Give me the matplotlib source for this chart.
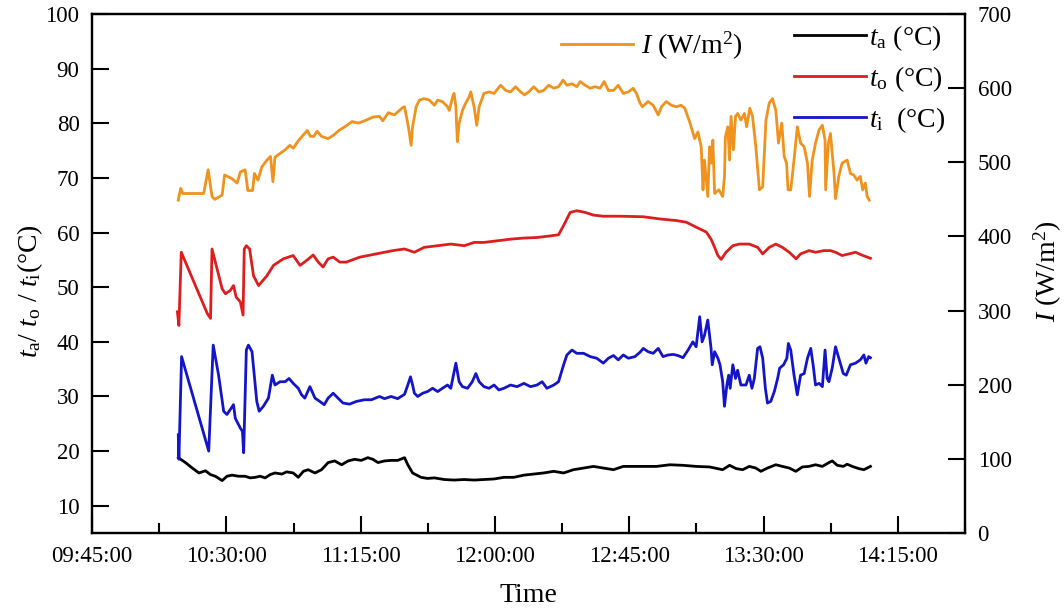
import numpy as np
import pandas as pd
import matplotlib
matplotlib.use("Agg")
import matplotlib.pyplot as plt
import matplotlib.dates as mdates
from matplotlib.lines import Line2D

plt.rcParams['font.family'] = ['Liberation Serif', 'DejaVu Serif']
plt.rcParams['mathtext.fontset'] = 'custom'
plt.rcParams['mathtext.rm'] = 'Liberation Serif'
plt.rcParams['mathtext.it'] = 'Liberation Serif:italic'
plt.rcParams['mathtext.bf'] = 'Liberation Serif:bold'

# ---------------- data (time in minutes after 09:45:00) ----------------
I_time = [28.9, 29.7, 30.4, 37.4, 38.9, 40.2, 41.1, 43.6, 44.4, 46.9, 48.6, 49.7, 51.3, 52.2, 53.8,
          54.4, 55.6, 56.9, 58.6, 59.8, 60.6, 61.3, 63.0, 64.7, 66.3, 67.4, 69.1, 70.4, 72.1, 73.2,
          74.3, 75.4, 76.9, 79.1, 81.0, 82.7, 84.7, 87.1, 89.3, 91.9, 94.1, 96.3, 97.4, 99.3, 101.3,
          103.0, 104.1, 104.7, 106.0, 106.9, 107.4, 108.6, 109.7, 111.3, 113.0, 114.7, 115.8, 117.4,
          119.1, 119.7, 120.8, 121.3, 121.9, 122.4, 123.0, 124.1, 125.2, 126.3, 126.9, 128.0, 128.9,
          129.7, 131.3, 133.0, 134.7, 136.9, 138.6, 140.2, 141.9, 143.6, 144.9, 146.3, 148.0, 149.7,
          151.3, 153.0, 154.7, 156.3, 157.8, 159.1, 160.8, 162.4, 163.6, 165.2, 166.9, 168.6, 170.2,
          171.6, 173.0, 174.7, 176.3, 178.0, 179.7, 181.3, 182.4, 183.6, 184.4, 186.3, 188.0, 189.7,
          190.8, 192.4, 194.1, 195.8, 197.4, 198.6, 200.2, 201.9, 203.0, 204.1, 204.7, 205.2, 206.3,
          206.9, 207.4, 208.0, 208.6, 210.0, 211.3, 211.9, 212.2, 213.0, 213.6, 214.1, 214.9, 215.6,
          216.3, 217.4, 218.6, 219.3, 220.4, 221.3, 222.4, 223.6, 224.7, 225.8, 226.9, 228.0, 229.1,
          230.0, 231.1, 231.9, 232.7, 233.2, 234.1, 235.2, 236.3, 237.4, 238.6, 239.7, 240.4, 241.3,
          242.4, 243.6, 244.7, 245.6, 245.8, 246.7, 247.4, 248.6, 249.1, 250.2, 251.3, 253.0, 254.1,
          255.2, 256.3, 257.4, 258.2, 259.1, 259.7, 260.4]
I_vals = [449, 465, 458, 458, 490, 454, 450, 456, 483, 478, 472, 487, 490, 462, 462,
          485, 476, 494, 503, 508, 474, 507, 512, 517, 523, 519, 529, 535, 543, 535,
          535, 542, 535, 532, 537, 543, 548, 555, 553, 557, 561, 562, 556, 567, 564,
          570, 574, 575, 548, 523, 548, 575, 584, 586, 584, 577, 584, 582,
          575, 570, 588, 593, 575, 528, 553, 570, 580, 588, 595, 575, 550,
          575, 593, 595, 593, 604, 597, 595, 602, 595, 591, 595, 602, 595,
          597, 604, 600, 602, 611, 604, 606, 602, 609, 604, 600, 602, 600,
          609, 597, 597, 604, 593, 595, 600, 593, 580, 575, 582, 577, 564,
          575, 582, 577, 575, 577, 573, 555, 532, 541, 521, 463, 503, 454,
          521, 499, 530, 458, 463, 454, 481, 534, 548, 503, 562, 517, 562,
          566, 557, 566, 548, 573, 562, 521, 463, 467, 557, 580, 586, 570,
          526, 553, 508, 499, 463, 463, 503, 548, 526, 521, 499, 454, 503,
          526, 544, 550, 530, 463, 526, 539, 485, 451, 481, 499, 503, 485,
          483, 476, 481, 463, 472, 454, 449]

to_time = [28.6, 29.1, 29.9, 38.6, 39.7, 40.2, 43.6, 44.7, 46.3, 47.4, 48.3, 49.7, 50.6, 51.0,
           51.7, 52.8, 54.1, 55.8, 58.6, 60.8, 64.1, 67.4, 69.7, 71.9, 74.1, 75.8, 77.4, 79.1,
           80.8, 83.0, 85.2, 89.7, 95.2, 100.8, 104.7, 108.0, 111.3, 115.8, 120.2, 124.7, 128.0,
           131.3, 135.8, 140.2, 144.7, 149.1, 153.6, 156.3, 158.0, 160.2, 162.4, 165.2, 168.0,
           171.3, 176.9, 184.7, 190.2, 195.8, 199.1, 202.4, 205.8, 207.4, 208.6, 209.7, 210.8,
           212.4, 214.7, 216.9, 220.2, 223.0, 224.7, 226.9, 229.1, 231.3, 233.6, 235.9, 237.4,
           240.2, 242.4, 245.2, 247.4, 249.1, 251.3, 253.6, 255.8, 258.3, 260.8]
to_vals = [45.5, 43.0, 56.4, 45.2, 44.3, 57.0, 49.7, 48.8, 49.4, 50.3, 48.2, 47.3, 44.9, 57.0,
           57.6, 57.0, 52.1, 50.3, 52.1, 54.0, 55.2, 55.8, 54.0, 54.9, 55.9, 54.6, 53.7, 55.2,
           55.5, 54.6, 54.6, 55.5, 56.1, 56.7, 57.0, 56.4, 57.3, 57.6, 57.9, 57.6, 58.2,
           58.2, 58.5, 58.8, 59.0, 59.1, 59.4, 59.6, 61.3, 63.7, 64.0, 63.7, 63.2,
           63.0, 63.0, 62.9, 62.5, 62.2, 61.9, 61.0, 60.1, 58.8, 57.3, 55.8, 55.1,
           56.4, 57.6, 57.9, 57.9, 57.3, 56.1, 57.3, 57.9, 57.3, 56.4, 55.2, 56.1,
           56.7, 56.4, 56.7, 56.7, 56.4, 55.8, 56.1, 56.4, 55.8, 55.3]

ti_time = [28.9, 29.1, 30.0, 39.1, 40.6, 42.4, 44.1, 45.2, 46.3, 47.4, 48.0, 49.7, 50.4, 50.8,
           51.7, 52.4, 53.6, 55.2, 56.0, 57.4, 59.1, 60.4, 61.3, 63.0, 64.7, 66.0, 67.4, 69.1,
           70.2, 71.3, 73.0, 74.7, 76.3, 77.8, 79.1, 80.8, 82.4, 84.1, 86.3, 88.6, 91.3, 93.6,
           96.3, 98.0, 100.2, 102.4, 104.7, 105.8, 106.7, 107.4, 108.0, 109.1, 110.8, 112.4,
           114.1, 115.8, 117.4, 119.1, 120.2, 121.9, 123.0, 124.1, 125.8, 127.4, 128.6, 129.7,
           131.3, 133.0, 134.7, 136.3, 138.0, 140.2, 142.4, 144.7, 146.9, 149.1, 150.8, 152.4,
           154.7, 156.3, 158.0, 159.1, 160.8, 162.4, 164.7, 166.9, 169.1, 171.3, 173.0, 174.7,
           176.3, 178.0, 179.7, 181.9, 183.6, 184.7, 186.3, 188.0, 189.7, 191.3, 193.0, 194.7,
           196.3, 198.0, 199.7, 201.3, 202.4, 203.6, 204.4, 205.2, 206.3, 206.9, 207.4, 207.8,
           208.6, 209.7, 210.4, 211.3, 211.9, 212.7, 213.3, 213.8, 214.7, 215.6, 216.3, 217.4,
           219.1, 220.2, 221.1, 221.9, 223.0, 223.8, 224.7, 225.6, 226.3, 227.4, 228.6, 229.7,
           230.4, 231.7, 232.8, 233.3, 234.1, 235.2, 236.3, 237.4, 238.6, 239.7, 240.8, 241.6,
           242.4, 243.6, 244.7, 245.6, 246.3, 246.9, 248.0, 249.1, 250.2, 251.7, 252.7, 254.1,
           255.8, 257.4, 258.6, 259.3, 260.2, 260.8]
ti_vals = [23.0, 18.5, 37.3, 20.0, 39.4, 33.9, 27.3, 26.7, 27.6, 28.5, 26.0, 24.2, 23.6, 19.7,
           38.5, 39.4, 38.2, 29.1, 27.3, 28.2, 29.7, 33.9, 32.1, 32.7, 32.7, 33.3, 32.4, 31.5,
           30.3, 29.7, 31.8, 29.7, 29.1, 28.5, 29.7, 30.6, 29.7, 28.8, 28.6, 29.1, 29.4, 29.4,
           30.0, 29.6, 30.0, 29.6, 30.4, 32.1, 33.6, 32.1, 30.6, 30.0, 30.6, 30.9,
           31.5, 30.9, 31.5, 32.1, 31.5, 36.1, 32.7, 31.8, 31.5, 32.7, 34.2, 32.7,
           31.8, 31.5, 32.1, 31.2, 31.5, 32.1, 31.8, 32.4, 31.8, 32.1, 32.7, 31.5,
           32.1, 32.7, 35.8, 37.6, 38.5, 37.9, 37.9, 37.3, 37.0, 36.1, 37.0, 37.5,
           36.7, 37.6, 37.0, 37.3, 38.1, 38.8, 38.2, 37.9, 38.8, 37.3, 37.6, 37.7,
           37.5, 37.1, 38.5, 40.0, 39.1, 44.6, 40.0, 41.2, 44.0, 41.2, 38.8, 35.8,
           38.2, 37.0, 35.8, 32.7, 28.2, 32.1, 33.9, 31.5, 35.8, 33.3, 34.8, 32.1,
           32.1, 33.9, 31.5, 33.3, 38.8, 39.1, 37.0, 31.5, 28.8, 29.1, 30.9, 33.3,
           35.2, 35.8, 37.0, 39.7, 38.5, 33.9, 30.3, 33.9, 34.2, 37.0, 38.8, 35.8,
           32.1, 32.4, 31.8, 38.5, 33.3, 32.7, 35.2, 39.1, 37.0, 34.2, 33.9, 35.8,
           36.1, 36.7, 37.6, 36.1, 37.3, 37.1]

ta_time = [28.9, 31.3, 33.6, 35.8, 38.0, 39.7, 41.3, 43.6, 45.2, 46.9, 49.1, 51.3, 53.0, 54.7,
           56.3, 58.0, 59.7, 61.3, 63.6, 65.2, 67.4, 69.1, 70.8, 72.4, 74.7, 76.9, 79.1, 81.3,
           83.6, 85.8, 88.0, 90.2, 92.4, 94.1, 95.8, 98.0, 100.2, 102.4, 104.7, 105.8, 107.4,
           110.2, 112.4, 114.7, 118.0, 121.3, 124.7, 128.0, 131.3, 134.7, 138.0, 141.3, 144.7,
           148.0, 151.3, 154.7, 158.0, 161.3, 164.7, 168.0, 171.3, 174.7, 178.0, 181.3, 184.7,
           189.1, 193.6, 198.0, 202.4, 206.9, 211.3, 213.6, 215.8, 218.0, 220.2, 222.4, 224.1,
           226.3, 229.1, 231.3, 233.6, 235.8, 238.0, 240.2, 242.4, 244.7, 246.9, 248.0, 249.7,
           251.7, 253.0, 254.7, 256.9, 258.6, 260.8]
ta_vals = [18.8, 17.9, 16.9, 16.0, 16.4, 15.7, 15.4, 14.6, 15.4, 15.6, 15.4, 15.4, 15.1, 15.2,
           15.4, 15.1, 15.7, 16.0, 15.8, 16.2, 16.0, 15.2, 16.3, 16.6, 16.0, 16.6, 17.9, 18.2,
           17.5, 18.2, 18.5, 18.3, 18.8, 18.5, 17.9, 18.2, 18.3, 18.3, 18.8, 17.5, 16.0,
           15.2, 15.0, 15.1, 14.8, 14.7, 14.8, 14.7, 14.8, 14.9, 15.2, 15.2, 15.6,
           15.8, 16.0, 16.3, 16.0, 16.6, 16.9, 17.2, 16.9, 16.6, 17.2, 17.2, 17.2,
           17.2, 17.5, 17.4, 17.2, 17.1, 16.6, 17.4, 16.8, 16.6, 17.2, 16.9, 16.3,
           16.9, 17.5, 17.2, 16.9, 16.3, 17.1, 17.2, 17.5, 17.2, 17.9, 18.2, 17.4,
           17.2, 17.6, 17.2, 16.8, 16.6, 17.2]

start_clock = "09:45:00"
x_tick_labels = ["09:45:00", "10:30:00", "11:15:00", "12:00:00", "12:45:00", "13:30:00", "14:15:00"]
left_ticks = [10, 20, 30, 40, 50, 60, 70, 80, 90, 100]
right_ticks = [0, 100, 200, 300, 400, 500, 600, 700]

# ---------------- helpers ----------------
base = pd.Timestamp("2020-01-01 " + start_clock)


def to_x(minutes):
    return (base + pd.to_timedelta(np.asarray(minutes, dtype=float), unit="min")).to_numpy()


C_I = '#F0921E'
C_O = '#DC1E1E'
C_IN = '#1414C8'
C_A = '#000000'

fig = plt.figure(figsize=(10.64, 6.12), dpi=100)
ax = fig.add_axes([0.0865, 0.129, 0.8205, 0.848])
ax2 = ax.twinx()

lw = 2.0
ax.plot(to_x(ta_time), ta_vals, color=C_A, lw=lw)
ax.plot(to_x(to_time), to_vals, color=C_O, lw=lw)
ax.plot(to_x(ti_time), ti_vals, color=C_IN, lw=lw)
ax2.plot(to_x(I_time), I_vals, color=C_I, lw=lw)

ax.set_ylim(5, 100)
ax2.set_ylim(0, 700)
ax.set_xlim(to_x([0])[0], to_x([291.3])[0])

major = [pd.Timestamp("2020-01-01 " + s) for s in x_tick_labels]
minor = [m + pd.Timedelta(minutes=22.5) for m in major]
ax.set_xticks(major)
ax.set_xticks(minor, minor=True)
ax.xaxis.set_major_formatter(mdates.DateFormatter('%H:%M:%S'))
ax.set_yticks(left_ticks)
ax2.set_yticks(right_ticks)

tick_fs = 16.5
ax.tick_params(axis='x', which='major', direction='in', length=12, width=1.5,
               labelsize=tick_fs, pad=9, top=False)
ax.tick_params(axis='x', which='minor', direction='in', length=7, width=1.5, top=False)
ax.tick_params(axis='y', which='major', direction='in', length=12, width=1.5,
               labelsize=tick_fs, pad=9, right=False)
ax2.tick_params(axis='y', which='major', direction='in', length=12, width=1.5,
                labelsize=tick_fs, pad=9)

for a in (ax, ax2):
    for sp in a.spines.values():
        sp.set_linewidth(1.6)

lab_fs = 20
ax.set_xlabel("Time", fontsize=lab_fs, labelpad=12)
ax.set_ylabel(r"$t_{\mathrm{a}}$/ $t_{\mathrm{o}}$ / $t_{\mathrm{i}}$(°C)", fontsize=lab_fs)
ax.yaxis.set_label_coords(-0.054, 0.466)
ax2.set_ylabel(r"$I$ (W/m$^{2}$)", fontsize=lab_fs)
ax2.yaxis.set_label_coords(1.076, 0.505)

h_I = Line2D([], [], color=C_I, lw=lw)
leg1 = ax2.legend([h_I], [r"$I$ (W/m$^{2}$)"], loc='upper left',
                  bbox_to_anchor=(0.527, 0.952), bbox_transform=fig.transFigure,
                  frameon=False, fontsize=lab_fs, handlelength=2.6, handletextpad=0.3,
                  borderpad=0, borderaxespad=0)
ax2.add_artist(leg1)
hs = [Line2D([], [], color=c, lw=lw) for c in (C_A, C_O, C_IN)]
labs = [r"$t_{\mathrm{a}}$ (°C)", r"$t_{\mathrm{o}}$ (°C)", r"$t_{\mathrm{i}}$  (°C)"]
ax2.legend(hs, labs, loc='upper left', bbox_to_anchor=(0.746, 0.962),
           bbox_transform=fig.transFigure, frameon=False, fontsize=lab_fs,
           handlelength=2.6, handletextpad=0.1, labelspacing=0.4,
           borderpad=0, borderaxespad=0)

fig.savefig("out.png", dpi=100)
